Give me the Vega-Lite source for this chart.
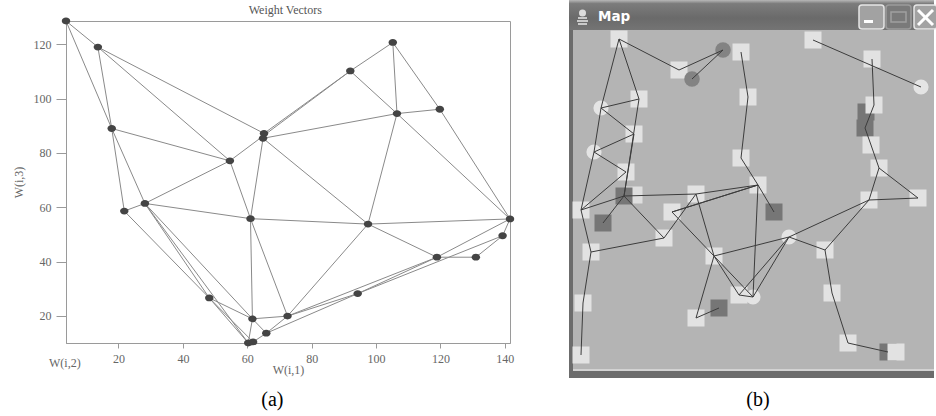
{
  "$schema": "https://vega.github.io/schema/vega-lite/v6.json",
  "autosize": {"type": "pad"},
  "padding": {"left": 11, "top": 0, "right": 0, "bottom": 0},
  "background": "white",
  "bounds": "flush",
  "spacing": 58,
  "config": {"view": {"stroke": null}, "font": "Liberation Serif"},
  "datasets": {
    "nodesA": [
      {"id": "A", "x": 3.7, "y": 128.6}, {"id": "B", "x": 13.6, "y": 119.0}, {"id": "C", "x": 17.9, "y": 89.0},
      {"id": "D", "x": 21.8, "y": 58.6}, {"id": "E", "x": 28.2, "y": 61.4}, {"id": "F", "x": 54.6, "y": 77.1},
      {"id": "G1", "x": 65.2, "y": 87.2}, {"id": "G2", "x": 64.9, "y": 85.4}, {"id": "H", "x": 92.0, "y": 110.2},
      {"id": "I", "x": 105.2, "y": 120.7}, {"id": "J", "x": 106.5, "y": 94.5}, {"id": "K", "x": 119.8, "y": 96.1},
      {"id": "L", "x": 61.0, "y": 55.8}, {"id": "M", "x": 97.5, "y": 53.8}, {"id": "N", "x": 141.6, "y": 55.7},
      {"id": "O", "x": 139.3, "y": 49.5}, {"id": "P", "x": 131.0, "y": 41.6}, {"id": "Q", "x": 118.9, "y": 41.6},
      {"id": "R", "x": 94.3, "y": 28.2}, {"id": "S", "x": 72.5, "y": 19.9}, {"id": "T", "x": 61.6, "y": 18.9},
      {"id": "U", "x": 65.9, "y": 13.6}, {"id": "V1", "x": 60.3, "y": 10.0}, {"id": "V2", "x": 61.8, "y": 10.4},
      {"id": "W", "x": 48.2, "y": 26.6}
    ],
    "edgesA": [
      {"s": "A", "t": "B"}, {"s": "A", "t": "C"}, {"s": "B", "t": "C"}, {"s": "B", "t": "F"}, {"s": "B", "t": "G1"},
      {"s": "C", "t": "F"}, {"s": "C", "t": "D"}, {"s": "C", "t": "E"}, {"s": "D", "t": "E"}, {"s": "E", "t": "F"},
      {"s": "F", "t": "H"}, {"s": "G1", "t": "H"}, {"s": "G2", "t": "J"}, {"s": "G2", "t": "L"}, {"s": "G2", "t": "M"},
      {"s": "F", "t": "L"}, {"s": "H", "t": "I"}, {"s": "H", "t": "J"}, {"s": "I", "t": "J"}, {"s": "I", "t": "K"},
      {"s": "J", "t": "K"}, {"s": "J", "t": "M"}, {"s": "J", "t": "N"}, {"s": "K", "t": "N"}, {"s": "L", "t": "M"},
      {"s": "M", "t": "N"}, {"s": "M", "t": "Q"}, {"s": "M", "t": "S"}, {"s": "E", "t": "L"}, {"s": "L", "t": "T"},
      {"s": "L", "t": "S"}, {"s": "T", "t": "V1"}, {"s": "T", "t": "S"}, {"s": "T", "t": "U"}, {"s": "U", "t": "V2"},
      {"s": "U", "t": "S"}, {"s": "S", "t": "Q"}, {"s": "S", "t": "R"}, {"s": "U", "t": "R"}, {"s": "R", "t": "Q"},
      {"s": "R", "t": "O"}, {"s": "Q", "t": "P"}, {"s": "P", "t": "O"}, {"s": "O", "t": "N"}, {"s": "Q", "t": "N"},
      {"s": "D", "t": "W"}, {"s": "E", "t": "W"}, {"s": "E", "t": "V1"}, {"s": "E", "t": "T"}, {"s": "W", "t": "T"},
      {"s": "W", "t": "V1"}, {"s": "W", "t": "V2"}
    ],
    "nodesB": [
      {"id": "s1", "kind": "sq", "x": 51, "y": 39}, {"id": "s2", "kind": "sq", "x": 173, "y": 52},
      {"id": "s3", "kind": "sq", "x": 111, "y": 70}, {"id": "s4", "kind": "sq", "x": 71, "y": 99},
      {"id": "s5", "kind": "sq", "x": 180, "y": 97}, {"id": "s6", "kind": "sq", "x": 66, "y": 134},
      {"id": "s7", "kind": "sq", "x": 173, "y": 158}, {"id": "s8", "kind": "sq", "x": 58, "y": 172},
      {"id": "s9", "kind": "sq", "x": 190, "y": 185}, {"id": "s10", "kind": "sq", "x": 128, "y": 194},
      {"id": "s11", "kind": "sq", "x": 245, "y": 40}, {"id": "s12", "kind": "sq", "x": 304, "y": 59},
      {"id": "s13", "kind": "sq", "x": 306, "y": 105}, {"id": "s14", "kind": "sq", "x": 303, "y": 145},
      {"id": "s15", "kind": "sq", "x": 311, "y": 168}, {"id": "s16", "kind": "sq", "x": 301, "y": 200},
      {"id": "s17", "kind": "sq", "x": 350, "y": 198}, {"id": "s18", "kind": "sq", "x": 13, "y": 210},
      {"id": "s19", "kind": "sq", "x": 104, "y": 212}, {"id": "s20", "kind": "sq", "x": 96, "y": 238},
      {"id": "s21", "kind": "sq", "x": 23, "y": 252}, {"id": "s22", "kind": "sq", "x": 146, "y": 256},
      {"id": "s23", "kind": "sq", "x": 15, "y": 303}, {"id": "s24", "kind": "sq", "x": 171, "y": 295},
      {"id": "s25", "kind": "sq", "x": 128, "y": 318}, {"id": "s26", "kind": "sq", "x": 13, "y": 355},
      {"id": "s27", "kind": "sq", "x": 257, "y": 250}, {"id": "s28", "kind": "sq", "x": 264, "y": 293},
      {"id": "s29", "kind": "sq", "x": 280, "y": 343}, {"id": "s30", "kind": "sq", "x": 328, "y": 352},
      {"id": "s31", "kind": "sqlow", "x": 66, "y": 195},
      {"id": "d1", "kind": "dsq", "x": 56, "y": 196}, {"id": "d2", "kind": "dsq", "x": 35, "y": 223},
      {"id": "d3", "kind": "dsq", "x": 297, "y": 128}, {"id": "d3a", "kind": "dsq", "x": 298, "y": 112},
      {"id": "d4", "kind": "dsq", "x": 206, "y": 212}, {"id": "d5", "kind": "dsq", "x": 151, "y": 308},
      {"id": "d6", "kind": "dsq", "x": 320, "y": 352},
      {"id": "c1", "kind": "dc", "x": 155, "y": 50}, {"id": "c2", "kind": "dc", "x": 124, "y": 79},
      {"id": "l1", "kind": "lc", "x": 33, "y": 108}, {"id": "l2", "kind": "lc", "x": 26, "y": 152},
      {"id": "l3", "kind": "lc", "x": 353, "y": 87}, {"id": "l4", "kind": "lc", "x": 221, "y": 237},
      {"id": "l5", "kind": "lc", "x": 185, "y": 297}
    ],
    "edgesB": [
      {"s": "s1", "t": "l1"}, {"s": "s1", "t": "s4"}, {"s": "s1", "t": "s3"}, {"s": "s3", "t": "c1"}, {"s": "c2", "t": "c1"},
      {"s": "l1", "t": "s4"}, {"s": "l1", "t": "s6"}, {"s": "l1", "t": "l2"}, {"s": "s4", "t": "d1"}, {"s": "s6", "t": "d1"},
      {"s": "l2", "t": "s6"}, {"s": "l2", "t": "s8"}, {"s": "s8", "t": "s18"}, {"s": "s2", "t": "s5"}, {"s": "s5", "t": "s7"},
      {"s": "s7", "t": "s9"}, {"s": "s9", "t": "s10"}, {"s": "s9", "t": "s19"}, {"s": "s11", "t": "l3"}, {"s": "s12", "t": "s13"},
      {"s": "s13", "t": "d3"}, {"s": "d3", "t": "s14"}, {"s": "s14", "t": "s15"}, {"s": "s15", "t": "s16"}, {"s": "s15", "t": "s17"},
      {"s": "s16", "t": "s17"}, {"s": "s16", "t": "l4"}, {"s": "s16", "t": "s27"}, {"s": "l4", "t": "s27"}, {"s": "s27", "t": "s28"},
      {"s": "s28", "t": "s29"}, {"s": "s29", "t": "d6"}, {"s": "l4", "t": "l5"}, {"s": "l4", "t": "s24"}, {"s": "l4", "t": "s22"},
      {"s": "d4", "t": "s9"}, {"s": "s9", "t": "l5"}, {"s": "s22", "t": "s25"}, {"s": "s22", "t": "s24"}, {"s": "s22", "t": "l5"},
      {"s": "s22", "t": "s10"}, {"s": "s22", "t": "s19"}, {"s": "s20", "t": "s21"}, {"s": "s20", "t": "d1"}, {"s": "s20", "t": "s10"},
      {"s": "d1", "t": "s18"}, {"s": "s18", "t": "s21"}, {"s": "s21", "t": "s23"}, {"s": "s23", "t": "s26"}, {"s": "d2", "t": "d1"},
      {"s": "d1", "t": "s10"}, {"s": "s25", "t": "d5"}, {"s": "s24", "t": "l5"}, {"s": "s19", "t": "s9"}, {"s": "l2", "t": "s18"}
    ],
    "chrome": [
      {"part": "frame", "x0": 1, "x1": 366, "y0": 0, "y1": 378},
      {"part": "content", "x0": 5, "x1": 366, "y0": 30, "y1": 369},
      {"part": "edge", "x0": 5, "x1": 366, "y0": 369, "y1": 371}
    ]
  },
  "hconcat": [
    {
      "width": 444,
      "height": 322,
      "view": {"stroke": "#9a9a9a", "strokeWidth": 1},
      "layer": [
        {
          "data": {"name": "edgesA"},
          "transform": [
            {"lookup": "s", "from": {"data": {"name": "nodesA"}, "key": "id", "fields": ["x", "y"]}, "as": ["sx", "sy"]},
            {"lookup": "t", "from": {"data": {"name": "nodesA"}, "key": "id", "fields": ["x", "y"]}, "as": ["tx", "ty"]}
          ],
          "mark": {"type": "rule", "color": "#8a8a8a", "strokeWidth": 1},
          "encoding": {
            "x": {"field": "sx", "type": "quantitative", "scale": {"domain": [3.7, 141.6], "nice": false, "zero": false},
              "axis": {"values": [20, 40, 60, 80, 100, 120, 140], "title": "W(i,1)", "titleFont": "Liberation Serif", "titleFontSize": 12, "titleFontWeight": "normal", "titleColor": "#666666", "titlePadding": 0,
                "labelFont": "Liberation Serif", "labelFontSize": 12, "labelColor": "#666666", "labelPadding": 5, "tickSize": 5, "tickColor": "#9a9a9a", "domainColor": "#9a9a9a", "grid": false, "labelFlush": false, "labelOverlap": false}},
            "y": {"field": "sy", "type": "quantitative", "scale": {"domain": [10, 128.6], "nice": false, "zero": false},
              "axis": {"values": [20, 40, 60, 80, 100, 120], "title": "W(i,3)", "titleFont": "Liberation Serif", "titleFontSize": 12, "titleFontWeight": "normal", "titleColor": "#666666", "titlePadding": 8,
                "labelFont": "Liberation Serif", "labelFontSize": 12, "labelColor": "#666666", "labelPadding": 5, "tickSize": 10, "tickColor": "#9a9a9a", "domainColor": "#9a9a9a", "grid": false, "labelFlush": false, "labelOverlap": false}},
            "x2": {"field": "tx"},
            "y2": {"field": "ty"}
          }
        },
        {
          "data": {"name": "nodesA"},
          "mark": {"type": "point", "filled": true, "opacity": 1, "color": "#444444", "strokeWidth": 0, "size": 72, "shape": "M-1,0A1,0.8 0 1,1 1,0A1,0.8 0 1,1 -1,0Z"},
          "encoding": {
            "x": {"field": "x", "type": "quantitative"},
            "y": {"field": "y", "type": "quantitative"}
          }
        },
        {
          "data": {"values": [{"label": "Weight Vectors"}]},
          "mark": {"type": "text", "font": "Liberation Serif", "fontSize": 12, "color": "#555555", "align": "center", "baseline": "middle"},
          "encoding": {"x": {"datum": 71.8, "type": "quantitative"}, "y": {"datum": 132.5, "type": "quantitative"}, "text": {"field": "label"}}
        },
        {
          "data": {"values": [{"label": "W(i,2)"}]},
          "mark": {"type": "text", "font": "Liberation Serif", "fontSize": 12, "color": "#666666", "align": "center", "baseline": "middle"},
          "encoding": {"x": {"datum": 3.35, "type": "quantitative"}, "y": {"datum": 2.7, "type": "quantitative"}, "text": {"field": "label"}}
        },
        {
          "data": {"values": [{"label": "(a)"}]},
          "mark": {"type": "text", "font": "Liberation Serif", "fontSize": 20, "color": "#000000", "align": "center", "baseline": "middle"},
          "encoding": {"x": {"datum": 67.8, "type": "quantitative"}, "y": {"datum": -10.9, "type": "quantitative"}, "text": {"field": "label"}}
        }
      ]
    },
    {
      "width": 366,
      "height": 322,
      "view": {"stroke": null},
      "layer": [
        {
          "data": {"name": "chrome"},
          "mark": {"type": "rect"},
          "encoding": {
            "x": {"field": "x0", "type": "quantitative", "scale": {"domain": [0, 366], "nice": false, "zero": false}, "axis": null},
            "x2": {"field": "x1"},
            "y": {"field": "y0", "type": "quantitative", "scale": {"domain": [21, 343], "nice": false, "zero": false, "reverse": true}, "axis": null},
            "y2": {"field": "y1"},
            "color": {"field": "part", "type": "nominal", "scale": {"domain": ["frame", "content", "edge"], "range": ["#6c6c6c", "#b4b4b4", "#d2d2d2"]}, "legend": null}
          }
        },
        {
          "data": {"values": [{"part": "titlebar"}]},
          "mark": {"type": "rect", "color": {"gradient": "linear", "x1": 0, "y1": 0, "x2": 0, "y2": 1, "stops": [{"offset": 0, "color": "#b8b8b8"}, {"offset": 0.12, "color": "#7c7c7c"}, {"offset": 0.6, "color": "#6a6a6a"}, {"offset": 1, "color": "#747474"}]}},
          "encoding": {
            "x": {"datum": 1, "type": "quantitative"}, "x2": {"datum": 366},
            "y": {"datum": 0, "type": "quantitative"}, "y2": {"datum": 30}
          }
        },
        {
          "data": {"values": [{"b": "min", "x0": 291, "x1": 316}, {"b": "close", "x0": 346, "x1": 369}]},
          "mark": {"type": "rect", "fill": "#a2a2a2", "stroke": "#e6e6e6", "strokeWidth": 1.5, "cornerRadius": 3},
          "encoding": {
            "x": {"field": "x0", "type": "quantitative"}, "x2": {"field": "x1"},
            "y": {"datum": 5, "type": "quantitative"}, "y2": {"datum": 29}
          }
        },
        {
          "data": {"values": [{"b": "max"}]},
          "mark": {"type": "rect", "fill": "#7a7a7a", "stroke": "#9c9c9c", "strokeWidth": 1.5, "cornerRadius": 3},
          "encoding": {
            "x": {"datum": 318, "type": "quantitative"}, "x2": {"datum": 343},
            "y": {"datum": 5, "type": "quantitative"}, "y2": {"datum": 29}
          }
        },
        {
          "data": {"values": [{"b": "maxinner"}]},
          "mark": {"type": "rect", "fill": null, "fillOpacity": 0, "stroke": "#a0a0a0", "strokeWidth": 1.5},
          "encoding": {
            "x": {"datum": 323, "type": "quantitative"}, "x2": {"datum": 338},
            "y": {"datum": 12, "type": "quantitative"}, "y2": {"datum": 22}
          }
        },
        {
          "data": {"values": [{"b": "underscore"}]},
          "mark": {"type": "rect", "fill": "#ffffff"},
          "encoding": {
            "x": {"datum": 296, "type": "quantitative"}, "x2": {"datum": 305},
            "y": {"datum": 20, "type": "quantitative"}, "y2": {"datum": 23}
          }
        },
        {
          "data": {"values": [{"a": 350, "b": 10, "c": 365, "d": 25}, {"a": 350, "b": 25, "c": 365, "d": 10}]},
          "mark": {"type": "rule", "color": "#ffffff", "strokeWidth": 3},
          "encoding": {
            "x": {"field": "a", "type": "quantitative"}, "y": {"field": "b", "type": "quantitative"},
            "x2": {"field": "c"}, "y2": {"field": "d"}
          }
        },
        {
          "data": {"values": [{"a": 10, "c": 19, "y": 18}, {"a": 9, "c": 20, "y": 21}, {"a": 10, "c": 19, "y": 24}]},
          "mark": {"type": "rule", "color": "#e8e8e8", "strokeWidth": 1.5},
          "encoding": {
            "x": {"field": "a", "type": "quantitative"}, "x2": {"field": "c"},
            "y": {"field": "y", "type": "quantitative"}
          }
        },
        {
          "data": {"values": [{"icon": "cup"}]},
          "mark": {"type": "point", "filled": true, "opacity": 1, "color": "#dcdcdc", "size": 50, "shape": "circle"},
          "encoding": {"x": {"datum": 14.5, "type": "quantitative"}, "y": {"datum": 13, "type": "quantitative"}}
        },
        {
          "data": {"values": [{"label": "Map"}]},
          "mark": {"type": "text", "font": "DejaVu Sans", "fontSize": 13.5, "fontWeight": "bold", "color": "#ffffff", "align": "left", "baseline": "middle"},
          "encoding": {"x": {"datum": 30, "type": "quantitative"}, "y": {"datum": 17, "type": "quantitative"}, "text": {"field": "label"}}
        },
        {
          "data": {"name": "nodesB"},
          "transform": [{"filter": "datum.kind === 'sqlow'"}],
          "mark": {"type": "point", "shape": "square", "filled": true, "opacity": 1, "color": "#dedede", "size": 289},
          "encoding": {"x": {"field": "x", "type": "quantitative"}, "y": {"field": "y", "type": "quantitative"}}
        },
        {
          "data": {"name": "nodesB"},
          "transform": [{"filter": "datum.kind === 'dsq'"}],
          "mark": {"type": "point", "shape": "square", "filled": true, "opacity": 1, "color": "#767676", "size": 289},
          "encoding": {"x": {"field": "x", "type": "quantitative"}, "y": {"field": "y", "type": "quantitative"}}
        },
        {
          "data": {"name": "nodesB"},
          "transform": [{"filter": "datum.kind === 'sq'"}],
          "mark": {"type": "point", "shape": "square", "filled": true, "opacity": 1, "color": "#e2e2e2", "size": 289},
          "encoding": {"x": {"field": "x", "type": "quantitative"}, "y": {"field": "y", "type": "quantitative"}}
        },
        {
          "data": {"name": "nodesB"},
          "transform": [{"filter": "datum.kind === 'dc'"}],
          "mark": {"type": "point", "shape": "circle", "filled": true, "opacity": 1, "color": "#838383", "size": 240},
          "encoding": {"x": {"field": "x", "type": "quantitative"}, "y": {"field": "y", "type": "quantitative"}}
        },
        {
          "data": {"name": "nodesB"},
          "transform": [{"filter": "datum.kind === 'lc'"}],
          "mark": {"type": "point", "shape": "circle", "filled": true, "opacity": 1, "color": "#e4e4e4", "size": 230},
          "encoding": {"x": {"field": "x", "type": "quantitative"}, "y": {"field": "y", "type": "quantitative"}}
        },
        {
          "data": {"name": "edgesB"},
          "transform": [
            {"lookup": "s", "from": {"data": {"name": "nodesB"}, "key": "id", "fields": ["x", "y"]}, "as": ["sx", "sy"]},
            {"lookup": "t", "from": {"data": {"name": "nodesB"}, "key": "id", "fields": ["x", "y"]}, "as": ["tx", "ty"]}
          ],
          "mark": {"type": "rule", "color": "#3c3c3c", "strokeWidth": 1},
          "encoding": {
            "x": {"field": "sx", "type": "quantitative"}, "y": {"field": "sy", "type": "quantitative"},
            "x2": {"field": "tx"}, "y2": {"field": "ty"}
          }
        },
        {
          "data": {"values": [{"label": "(b)"}]},
          "mark": {"type": "text", "font": "Liberation Serif", "fontSize": 20, "color": "#000000", "align": "center", "baseline": "middle"},
          "encoding": {"x": {"datum": 190, "type": "quantitative"}, "y": {"datum": 400, "type": "quantitative"}, "text": {"field": "label"}}
        }
      ]
    }
  ]
}
